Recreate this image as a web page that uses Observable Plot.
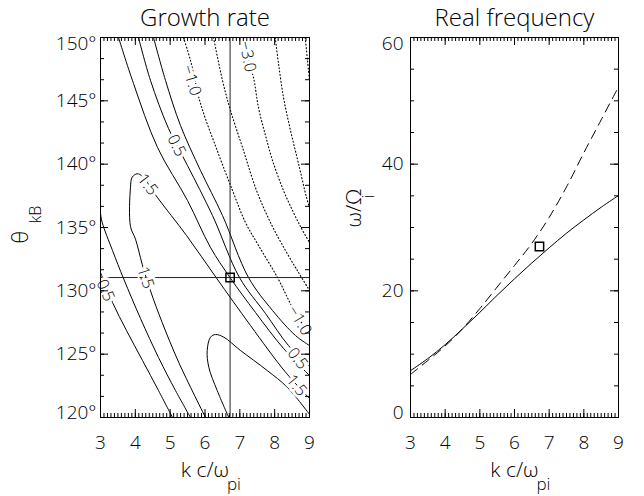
<!DOCTYPE html>
<html><head><meta charset="utf-8">
<script src="https://cdn.jsdelivr.net/npm/d3@7"></script>
<script src="https://cdn.jsdelivr.net/npm/@observablehq/plot@0.6"></script>
<style>
html,body{margin:0;padding:0;background:#fff;}
#wrap{display:flex;width:644px;height:496px;overflow:hidden;}
g[aria-label="title"] text{letter-spacing:1.5px;}
g[aria-label="ticklabel"] text{letter-spacing:1.5px;}
g[aria-label="axislabel"] text{letter-spacing:1px;}
</style></head><body><div id="wrap"></div>
<script>
// ---------- data ----------
const kTicks = [3, 4, 5, 6, 7, 8, 9];
const thetaTicks = [120, 125, 130, 135, 140, 145, 150];
const omegaTicks = [0, 20, 40, 60];

// selected point (square marker)
const kSel = 6.72, thetaSel = 131.05, omegaSel = 27.0;

// growth-rate contour lines [k, theta]
const c2_0 = [[6.683,120.0],[6.35,122.13],[6.109,123.97],[6.063,125.29],[6.158,126.34],[6.301,126.55],[6.54,126.34],[7.019,125.29],[7.786,123.71],[8.36,122.39],[9.0,120.25]];
const c1_5 = [[6.014,120.0],[5.248,124.34],[4.771,127.5],[4.435,130.0],[4.197,132.1],[4.005,134.08],[3.861,135.08],[3.861,138.18],[3.91,138.97],[4.054,139.24],[4.206,139.03],[4.628,137.39],[5.469,134.37],[6.319,131.05],[7.306,127.26],[8.311,123.58],[9.0,121.5]];
const c1_0a = [[3.0,136.11],[3.049,135.39],[3.345,133.18],[3.669,130.92],[4.148,127.82],[4.665,124.74],[5.153,122.13],[5.584,120.0]];
const c1_0b = [[3.517,150.0],[3.947,146.37],[4.636,141.32],[5.498,137.13],[6.158,133.42],[6.718,131.05],[7.45,128.29],[8.254,125.45],[9.0,123.32]];
const c0_5a = [[3.0,131.45],[3.345,129.08],[3.746,126.87],[4.206,124.5],[4.665,122.13],[5.067,120.0]];
const c0_5b = [[4.091,150.0],[4.435,146.61],[4.952,142.82],[5.498,139.89],[6.215,135.95],[6.99,131.05],[7.737,128.21],[8.397,125.68],[9.0,124.03]];
const c0_0 = [[4.522,150.0],[4.866,146.61],[5.297,143.05],[5.871,139.5],[6.502,135.95],[7.249,131.05],[7.938,128.45],[8.598,126.47],[9.0,125.68]];
const cm1_0 = [[5.383,150.0],[5.584,148.18],[5.871,144.79],[6.35,141.08],[6.79,137.92],[7.163,135.39],[7.536,133.58],[8.081,131.05],[8.483,128.84],[9.0,126.47]];
const cm2_0 = [[6.244,150.0],[6.502,146.61],[6.732,144.24],[7.105,141.08],[7.479,137.92],[7.88,135.39],[8.311,133.18],[8.684,131.45],[9.0,130.03]];
const cm3_0 = [[7.105,150.0],[7.249,148.18],[7.392,146.84],[7.536,144.47],[7.737,142.26],[7.938,140.29],[8.254,137.92],[8.541,136.18],[8.771,134.92],[9.0,133.82]];
const cm4_0 = [[8.015,150.0],[8.11,147.95],[8.254,145.26],[8.455,142.66],[8.684,140.05],[8.914,137.37],[9.0,136.58]];
const cm5_0 = [[8.877,150.0],[8.943,148.18],[9.0,146.61]];

// contour labels
const labelText  = ["\u22121.0", "0.5", "\u22123.0", "1.5", "1.5", "0.5", "\u22121.0", "0.5", "1.5"];
const labelK     = [5.613, 5.182, 7.22, 4.349, 4.292, 3.144, 8.713, 8.656, 8.627];
const labelTheta = [146.61, 141.47, 148.5, 138.39, 131.05, 130.03, 127.66, 124.66, 122.53];
const labelAngle = [73, 63, 78, 52, 72, 66, 59, 52, 50];

// real frequency curves
const kFreq = [3, 3.5, 4, 4.5, 5, 5.5, 6, 6.5, 7, 7.5, 8, 8.5, 9];
const omegaSolid  = [7.4, 9.3, 11.5, 14.0, 16.6, 19.3, 21.9, 24.4, 26.8, 29.1, 31.2, 33.2, 35.05];
const omegaDashed = [6.8, 9.0, 11.3, 14.0, 17.2, 20.6, 24.0, 27.5, 31.6, 36.4, 41.8, 47.0, 52.2];

// ---------- build tables ----------
const contours = [
  {level: 2.0, pts: c2_0}, {level: 1.5, pts: c1_5}, {level: 1.0, pts: c1_0a}, {level: 1.0, pts: c1_0b},
  {level: 0.5, pts: c0_5a}, {level: 0.5, pts: c0_5b}, {level: 0.0, pts: c0_0},
  {level: -1.0, pts: cm1_0}, {level: -2.0, pts: cm2_0}, {level: -3.0, pts: cm3_0},
  {level: -4.0, pts: cm4_0}, {level: -5.0, pts: cm5_0}
];
const rows = contours.flatMap((c, i) => c.pts.map(([k, t]) => ({id: i, level: c.level, k, t})));
const solidRows = rows.filter(d => d.level >= 0);
const dottedRows = rows.filter(d => d.level < 0);
const labels = labelText.map((s, i) => ({s, k: labelK[i], t: labelTheta[i], a: labelAngle[i]}));
const freq = kFreq.map((k, i) => ({k, solid: omegaSolid[i], dashed: omegaDashed[i]}));

const kMinor = d3.range(30, 91).map(d => d / 10);
const thetaMinor = d3.range(0, 19).map(i => 120 + i * 5 / 3);
const omegaMinor = d3.range(0, 61, 5);

const FONT = "'Open Sans', 'DejaVu Sans', sans-serif";
const H = 496, MT = 37, MB = 79, FH = H - MT - MB;

function frameTicks(xMajor, xMinor, yMajor, yMinor, FW) {
  return [
    Plot.ruleX(xMinor, {x: d => d, insetTop: FH - 4, stroke: "black"}),
    Plot.ruleX(xMinor, {x: d => d, insetBottom: FH - 4, stroke: "black"}),
    Plot.ruleX(xMajor, {x: d => d, insetTop: FH - 8, stroke: "black"}),
    Plot.ruleX(xMajor, {x: d => d, insetBottom: FH - 8, stroke: "black"}),
    Plot.ruleY(yMinor, {y: d => d, insetRight: FW - 4, stroke: "black"}),
    Plot.ruleY(yMinor, {y: d => d, insetLeft: FW - 4, stroke: "black"}),
    Plot.ruleY(yMajor, {y: d => d, insetRight: FW - 8, stroke: "black"}),
    Plot.ruleY(yMajor, {y: d => d, insetLeft: FW - 8, stroke: "black"}),
    Plot.frame({stroke: "black"})
  ];
}

function xLabels() {
  return [
    Plot.text(kTicks, {x: d => d, text: d => String(d), frameAnchor: "bottom", lineAnchor: "middle", dy: 25, fontSize: 19, ariaLabel: "ticklabel"}),
    Plot.text(["k c/\u03c9"], {text: d => d, frameAnchor: "bottom", textAnchor: "end", lineAnchor: "middle", dx: 24, dy: 53, fontSize: 21, ariaLabel: "axislabel"}),
    Plot.text(["pi"], {text: d => d, frameAnchor: "bottom", textAnchor: "start", lineAnchor: "middle", dx: 22, dy: 67, fontSize: 17, ariaLabel: "axislabel"})
  ];
}

// ---------- left panel: growth rate ----------
const FW1 = 209;
const left = Plot.plot({
  width: 322, height: H, marginLeft: 100, marginRight: 13, marginTop: MT, marginBottom: MB,
  x: {domain: [3, 9], axis: null},
  y: {domain: [120, 150], axis: null},
  style: {fontFamily: FONT, fontWeight: 300, background: "white", color: "black"},
  marks: [
    Plot.line(solidRows, {x: "k", y: "t", z: "id", curve: "catmull-rom", stroke: "black", strokeWidth: 1}),
    Plot.line(dottedRows, {x: "k", y: "t", z: "id", curve: "catmull-rom", stroke: "black", strokeWidth: 1.1, strokeDasharray: "1,2.4"}),
    Plot.ruleX([kSel], {x: d => d, stroke: "#222"}),
    Plot.ruleY([thetaSel], {y: d => d, stroke: "#222"}),
    Plot.dot([{k: kSel, t: thetaSel}], {x: "k", y: "t", symbol: "square", r: 4.7, stroke: "black", fill: "none"}),
    Plot.text(labels, {x: "k", y: "t", text: "s", rotate: "a", fontSize: 16, fill: "white", stroke: "white", strokeWidth: 6}),
    Plot.text(labels, {x: "k", y: "t", text: "s", rotate: "a", fontSize: 16, fill: "black"}),
    ...frameTicks(kTicks, kMinor, thetaTicks, thetaMinor, FW1),
    ...xLabels(),
    Plot.text(thetaTicks.slice(1, -1), {y: d => d, text: d => d + "\u00b0", frameAnchor: "left", textAnchor: "end", lineAnchor: "middle", dx: -4, fontSize: 19, ariaLabel: "ticklabel"}),
    Plot.text([150], {y: d => d, text: d => d + "\u00b0", frameAnchor: "left", textAnchor: "end", lineAnchor: "middle", dx: -4, dy: 6, fontSize: 19, ariaLabel: "ticklabel"}),
    Plot.text([120], {y: d => d, text: d => d + "\u00b0", frameAnchor: "left", textAnchor: "end", lineAnchor: "middle", dx: -4, dy: -5, fontSize: 19, ariaLabel: "ticklabel"}),
    Plot.text(["\u03b8"], {text: d => d, frameAnchor: "left", rotate: -90, lineAnchor: "middle", dx: -80, dy: 16, fontSize: 22}),
    Plot.text(["kB"], {text: d => d, frameAnchor: "left", rotate: -90, lineAnchor: "middle", dx: -65, dy: -4, fontSize: 16, ariaLabel: "axislabel"}),
    Plot.text(["Growth rate"], {text: d => d, frameAnchor: "top", lineAnchor: "middle", dy: -19, fontSize: 24, ariaLabel: "title"})
  ]
});

// ---------- right panel: real frequency ----------
const FW2 = 208;
const right = Plot.plot({
  width: 322, height: H, marginLeft: 88, marginRight: 26, marginTop: MT, marginBottom: MB,
  x: {domain: [3, 9], axis: null},
  y: {domain: [0, 60], axis: null},
  style: {fontFamily: FONT, fontWeight: 300, background: "white", color: "black"},
  marks: [
    Plot.line(freq, {x: "k", y: "solid", curve: "catmull-rom", stroke: "black", strokeWidth: 1}),
    Plot.line(freq, {x: "k", y: "dashed", curve: "catmull-rom", stroke: "black", strokeWidth: 1, strokeDasharray: "9,6"}),
    Plot.dot([{k: kSel, w: omegaSel}], {x: "k", y: "w", symbol: "square", r: 4.7, stroke: "black", fill: "none"}),
    ...frameTicks(kTicks, kMinor, omegaTicks, omegaMinor, FW2),
    ...xLabels(),
    Plot.text(omegaTicks.slice(1, -1), {y: d => d, text: d => String(d), frameAnchor: "left", textAnchor: "end", lineAnchor: "middle", dx: -7, fontSize: 19, ariaLabel: "ticklabel"}),
    Plot.text([60], {y: d => d, text: d => String(d), frameAnchor: "left", textAnchor: "end", lineAnchor: "middle", dx: -7, dy: 6, fontSize: 19, ariaLabel: "ticklabel"}),
    Plot.text([0], {y: d => d, text: d => String(d), frameAnchor: "left", textAnchor: "end", lineAnchor: "middle", dx: -7, dy: -5, fontSize: 19, ariaLabel: "ticklabel"}),
    Plot.text(["\u03c9/\u03a9"], {text: d => d, frameAnchor: "left", rotate: -90, lineAnchor: "middle", dx: -56, dy: 0, fontSize: 21, ariaLabel: "axislabel"}),
    Plot.text(["i"], {text: d => d, frameAnchor: "left", rotate: -90, lineAnchor: "middle", dx: -42, dy: -29, fontSize: 16}),
    Plot.text(["Real frequency"], {text: d => d, frameAnchor: "top", lineAnchor: "middle", dy: -19, fontSize: 24, ariaLabel: "title"})
  ]
});

document.getElementById("wrap").append(left, right);
</script>
</body></html>
